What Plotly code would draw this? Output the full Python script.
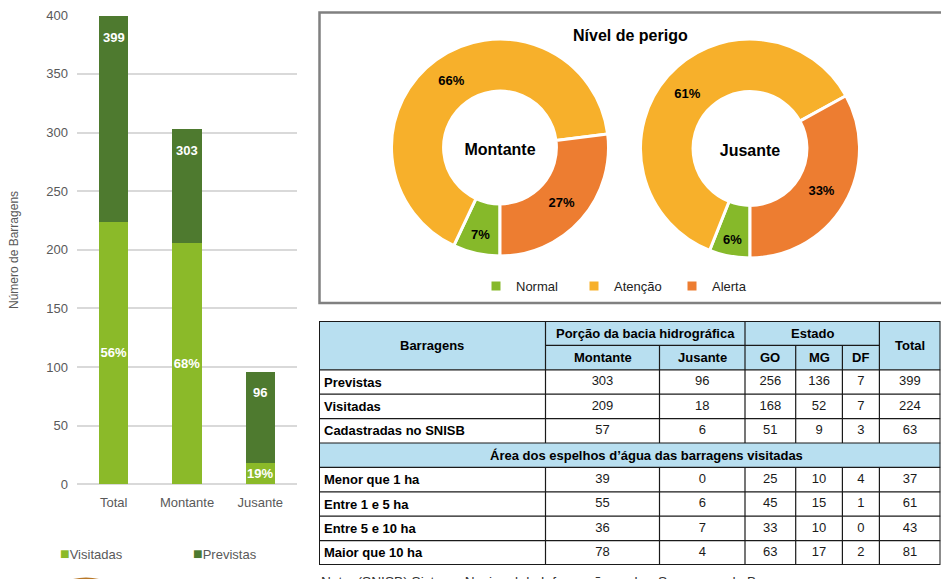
import plotly.graph_objects as go

# ---------------- data ----------------
categories = ["Total", "Montante", "Jusante"]
visitadas = [224, 206, 18]
previstas_total = [399, 303, 96]
pct_visitadas = ["56%", "68%", "19%"]

pie_labels = ["Normal", "Atenção", "Alerta"]
montante_pct = [7, 66, 27]
jusante_pct = [6, 61, 33]

table_cols = ["Montante", "Jusante", "GO", "MG", "DF", "Total"]
top_labels = ["Previstas", "Visitadas", "Cadastradas no SNISB"]
row_previstas = [303, 96, 256, 136, 7, 399]
row_visitadas = [209, 18, 168, 52, 7, 224]
row_cadastradas = [57, 6, 51, 9, 3, 63]
area_title = "Área dos espelhos d’água das barragens visitadas"
area_labels = ["Menor que 1 ha", "Entre 1 e 5 ha", "Entre 5 e 10 ha", "Maior que 10 ha"]
row_menor1 = [39, 0, 25, 10, 4, 37]
row_1a5 = [55, 6, 45, 15, 1, 61]
row_5a10 = [36, 7, 33, 10, 0, 43]
row_maior10 = [78, 4, 63, 17, 2, 81]

# ---------------- style ----------------
W, H = 941, 579
FONT = "Liberation Sans, Arial, sans-serif"
LIGHT = "#8BBA29"
DARK = "#4E7A2F"
PIE_COLORS = ["#86B92A", "#F7B02B", "#ED7D31"]
BLUE = "#B8DFF0"
GRAY = "#595959"


def px(x):
    return x / W


def py(y):
    return 1 - y / H


fig = go.Figure()

# ---------------- stacked bars ----------------
fig.add_bar(
    x=categories, y=visitadas, name="Visitadas", marker=dict(color=LIGHT, line=dict(width=0)),
    text=pct_visitadas, texttemplate="<b>%{text}</b>", textposition="inside",
    insidetextanchor="middle", textangle=0,
    textfont=dict(color="white", size=13, family=FONT), showlegend=False,
    xaxis="x", yaxis="y", hoverinfo="skip",
)
fig.add_bar(
    x=categories, y=[t - v for t, v in zip(previstas_total, visitadas)], name="Previstas",
    marker=dict(color=DARK, line=dict(width=0)), showlegend=False,
    xaxis="x", yaxis="y", hoverinfo="skip",
)

annotations = []
for c, t in zip(categories, previstas_total):
    annotations.append(dict(
        x=c, y=t, xref="x", yref="y", text=f"<b>{t}</b>", showarrow=False,
        yshift=-21, xanchor="center", yanchor="middle",
        font=dict(color="white", size=13, family=FONT),
    ))

# ---------------- donuts ----------------
def pie(values, title, cx, cy, r):
    return go.Pie(
        labels=pie_labels, values=values, hole=0.52, sort=False, direction="clockwise",
        rotation=180, marker=dict(colors=PIE_COLORS, line=dict(color="white", width=3)),
        texttemplate="<b>%{value}%</b>", textposition="inside",
        insidetextorientation="horizontal",
        textfont=dict(color="black", size=13, family=FONT),
        title=dict(text=f"<b>{title}</b>", position="middle center",
                   font=dict(size=16, color="black", family=FONT)),
        domain=dict(x=[px(cx - r), px(cx + r)], y=[py(cy + r), py(cy - r)]),
        legend="legend", hoverinfo="skip",
    )


fig.add_trace(pie(montante_pct, "Montante", 500, 147.5, 108.5))
fig.add_trace(pie(jusante_pct, "Jusante", 750, 148.5, 109.5))

# ---------------- table ----------------
col_widths = [226.5, 114, 85.5, 50.7, 46.7, 37, 61.1]
edges = [0]
for w in col_widths:
    edges.append(edges[-1] + w)
centers = [(edges[i] + edges[i + 1]) / 2 for i in range(len(col_widths))]
TW = edges[-1]
NR = 10

shapes = []
shapes.append(dict(type="rect", xref="x2", yref="y2", x0=0, x1=TW, y0=0, y1=2,
                   fillcolor=BLUE, line=dict(width=0), layer="below"))
shapes.append(dict(type="rect", xref="x2", yref="y2", x0=0, x1=TW, y0=5, y1=6,
                   fillcolor=BLUE, line=dict(width=0), layer="below"))
LC = "#1a1a1a"


def hline(y, x0, x1, w=1.2):
    shapes.append(dict(type="line", xref="x2", yref="y2", x0=x0, x1=x1, y0=y, y1=y,
                       line=dict(color=LC, width=w)))


def vline(x, y0, y1, w=1.2):
    shapes.append(dict(type="line", xref="x2", yref="y2", x0=x, x1=x, y0=y0, y1=y1,
                       line=dict(color=LC, width=w)))


hline(1, edges[1], edges[6])
for yy in range(2, NR):
    hline(yy, 0, TW)
for i in [1, 3, 6]:
    vline(edges[i], 0, 5)
    vline(edges[i], 6, NR)
for i in [2, 4, 5]:
    vline(edges[i], 1, 5)
    vline(edges[i], 6, NR)
shapes.append(dict(type="rect", xref="x2", yref="y2", x0=0, x1=TW, y0=0, y1=NR,
                   line=dict(color=LC, width=2)))


def tann(x, y, text, bold=True, xanchor="center", size=13):
    annotations.append(dict(
        x=x, y=y, xref="x2", yref="y2", text=f"<b>{text}</b>" if bold else text,
        showarrow=False, xanchor=xanchor, yanchor="middle",
        font=dict(size=size, color="black", family=FONT),
    ))


tann(centers[0], 1, "Barragens")
tann((edges[1] + edges[3]) / 2, 0.5, "Porção da bacia hidrográfica")
tann((edges[3] + edges[6]) / 2, 0.5, "Estado")
tann(centers[6], 1, "Total")
for i, c in enumerate(table_cols[:-1]):
    tann(centers[i + 1], 1.5, c)

body_rows = [row_previstas, row_visitadas, row_cadastradas]
area_rows = [row_menor1, row_1a5, row_5a10, row_maior10]
for k, lab in enumerate(top_labels):
    tann(3, 2.5 + k, lab, xanchor="left")
tann(TW / 2 + 17, 5.5, area_title)
for k, lab in enumerate(area_labels):
    tann(3, 6.5 + k, lab, xanchor="left")

cell_x, cell_y, cell_t = [], [], []
for k, row in enumerate(body_rows):
    for j, v in enumerate(row):
        cell_x.append(centers[j + 1]); cell_y.append(2.5 + k); cell_t.append(str(v))
for k, row in enumerate(area_rows):
    for j, v in enumerate(row):
        cell_x.append(centers[j + 1]); cell_y.append(6.5 + k); cell_t.append(str(v))
fig.add_trace(go.Scatter(
    x=cell_x, y=cell_y, text=cell_t, mode="text", textposition="middle center",
    textfont=dict(size=13, color="#1a1a1a", family=FONT), xaxis="x2", yaxis="y2",
    showlegend=False, hoverinfo="skip",
))

# ---------------- decorations ----------------
shapes.append(dict(type="rect", xref="paper", yref="paper", x0=px(319.5), x1=px(950),
                   y0=py(303), y1=py(12.5), line=dict(color="#808080", width=2.5)))
shapes.append(dict(type="circle", xref="paper", yref="paper", x0=px(86 - 56), x1=px(86 + 56),
                   y0=py(577.5 + 112), y1=py(577.5), fillcolor="#B87828",
                   line=dict(width=0)))

annotations.append(dict(x=px(630.5), y=py(35.5), xref="paper", yref="paper",
                        xanchor="center", yanchor="middle",
                        text="<b>Nível de perigo</b>", showarrow=False,
                        font=dict(size=16, color="black", family=FONT)))
annotations.append(dict(x=px(14), y=py(250), xref="paper", yref="paper",
                        xanchor="center", yanchor="middle",
                        text="Número de Barragens", textangle=-90, showarrow=False,
                        font=dict(size=12, color=GRAY, family=FONT)))
annotations.append(dict(x=px(58), y=py(553), xref="paper", yref="paper",
                        xanchor="left", yanchor="middle",
                        text=f"<span style='color:{LIGHT};font-size:16px'>■</span>Visitadas",
                        showarrow=False, font=dict(size=13, color=GRAY, family=FONT)))
annotations.append(dict(x=px(191), y=py(553), xref="paper", yref="paper",
                        xanchor="left", yanchor="middle",
                        text=f"<span style='color:{DARK};font-size:16px'>■</span>Previstas",
                        showarrow=False, font=dict(size=13, color=GRAY, family=FONT)))
annotations.append(dict(x=px(319), y=py(571.5), xref="paper", yref="paper",
                        xanchor="left", yanchor="top",
                        text="Nota: (SNISB) Sistema Nacional de Informações sobre Segurança de Barragens",
                        showarrow=False, font=dict(size=13.7, color="#333333", family=FONT)))

fig.update_layout(
    width=W, height=H, margin=dict(l=0, r=0, t=0, b=0, autoexpand=False),
    paper_bgcolor="white", plot_bgcolor="white",
    font=dict(family=FONT, size=13, color=GRAY),
    barmode="stack", bargap=0.6,
    uniformtext=dict(minsize=13, mode="show"),
    xaxis=dict(domain=[px(77), px(297)], showgrid=False, showline=False, zeroline=False,
               ticks="", tickfont=dict(size=13, color=GRAY), ticklabelstandoff=9,
               fixedrange=True, automargin=False),
    yaxis=dict(domain=[py(484.3), py(15.3)], range=[0, 400], dtick=50,
               gridcolor="#d9d9d9", gridwidth=1.5, zeroline=True, zerolinecolor="#d9d9d9",
               zerolinewidth=1.5, showline=False, ticks="",
               tickfont=dict(size=13, color=GRAY), ticklabelstandoff=8, fixedrange=True,
               automargin=False),
    xaxis2=dict(domain=[px(319), px(940.5)], range=[0, TW], visible=False, fixedrange=True,
                automargin=False),
    yaxis2=dict(domain=[py(565), py(321)], range=[NR, 0], visible=False, fixedrange=True,
                automargin=False),
    legend=dict(orientation="h", x=px(476), y=py(286), xanchor="left", yanchor="middle",
                font=dict(size=13, color="#222222", family=FONT), entrywidth=53,
                bgcolor="rgba(0,0,0,0)", traceorder="normal"),
    shapes=shapes, annotations=annotations,
)

fig.write_html("out.html", config={"displayModeBar": False},
               post_script="document.body.style.margin='0px';document.body.style.overflow='hidden';")
